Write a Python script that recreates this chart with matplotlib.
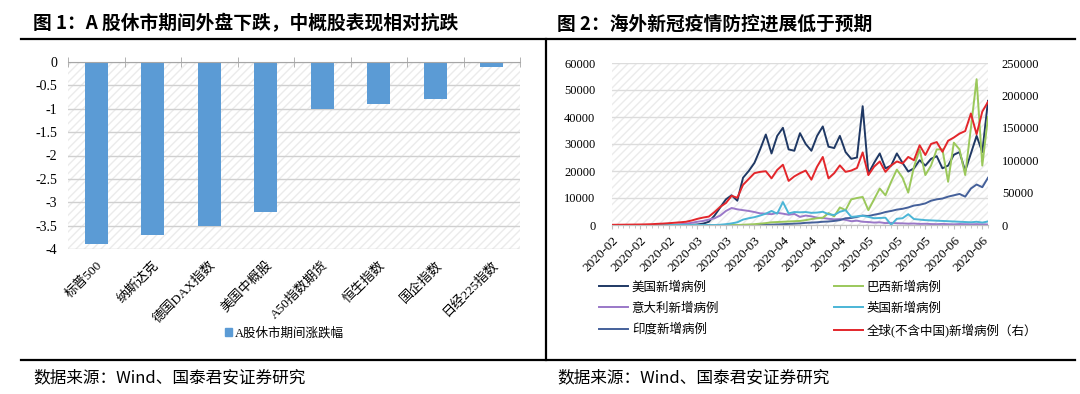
import numpy as np
import pandas as pd
import matplotlib
matplotlib.use('Agg')
import matplotlib.pyplot as plt
from matplotlib.patches import Rectangle, Patch
from matplotlib.lines import Line2D

plt.rcParams['font.family'] = ['Liberation Serif', 'Noto Sans CJK SC']

# ---- figure 1 data
indices = ['标普500', '纳斯达克', '德国DAX指数', '美国中概股', 'A50指数期货', '恒生指数', '国企指数', '日经225指数']
change = [-3.9, -3.7, -3.5, -3.2, -1.0, -0.9, -0.8, -0.1]

# ---- figure 2 data (every second day)
dates = pd.date_range('2020-02-03', periods=67, freq='2D')
us = [0, 0, 0, 0, 0, 0, 0, 0, 0, 0,
      0, 0, 0, 0, 50, 200, 500, 1200, 3500, 6500,
      9500, 11000, 9000, 17500, 20000, 23000, 28000, 33500, 26500, 33000,
      36000, 28000, 27500, 34000, 30000, 27500, 33000, 36500, 29000, 28500,
      33000, 27000, 24500, 25000, 44000, 19000, 23000, 26500, 21000, 22000,
      26500, 23000, 19800, 21000, 24000, 22000, 24500, 25500, 21000, 22000,
      26000, 27000, 20000, 26500, 33000, 27000, 46000]
brazil = [0, 0, 0, 0, 0, 0, 0, 0, 0, 0,
          0, 0, 0, 0, 0, 0, 0, 0, 0, 0,
          0, 0, 0, 100, 200, 300, 500, 700, 1000, 1100,
          1200, 1300, 1400, 1500, 1800, 2200, 2500, 2700, 4400, 3200,
          6500, 5500, 9500, 10000, 10400, 5500, 9500, 13500, 11000, 16000,
          20500, 17500, 12000, 21500, 28000, 18500, 22000, 28000, 28000, 16000,
          30500, 28000, 18500, 36000, 54000, 22000, 40000]
italy = [0, 0, 0, 0, 0, 0, 0, 0, 0, 0,
         50, 100, 300, 500, 800, 1200, 1500, 2000, 2500, 3500,
         5200, 6300, 5800, 5500, 5200, 4800, 4300, 4200, 4000, 4500,
         4200, 3800, 4100, 3000, 3500, 3200, 2700, 2600, 2300, 2100,
         2200, 1900, 1400, 1600, 1200, 1100, 900, 1000, 700, 800,
         650, 600, 500, 550, 400, 450, 350, 300, 400, 300,
         250, 350, 300, 250, 300, 250, 200]
uk = [0, 0, 0, 0, 0, 0, 0, 0, 0, 0,
      0, 0, 0, 0, 0, 0, 0, 0, 0, 100,
      300, 600, 1000, 2000, 2500, 2900, 3500, 4200, 5200, 4200,
      8500, 4300, 4800, 4700, 4800, 4500, 4600, 4900, 4000, 3700,
      4900, 5500, 3000, 3200, 3400, 3000, 2500, 2600, 2700, 100,
      2300, 2500, 4000, 2200, 2000, 1800, 1700, 1600, 1500, 1400,
      1300, 1200, 1100, 1000, 1200, 900, 1300]
india = [0, 0, 0, 0, 0, 0, 0, 0, 0, 0,
         0, 0, 0, 0, 0, 0, 0, 0, 0, 0,
         0, 0, 0, 0, 0, 0, 50, 100, 150, 200,
         300, 400, 500, 600, 800, 900, 1000, 1200, 1300, 1500,
         1800, 2500, 2600, 3000, 3500, 3300, 3800, 4200, 4800, 5200,
         5700, 6000, 6500, 7200, 7500, 8000, 9000, 9500, 9800, 10500,
         11000, 11500, 10500, 13500, 15000, 14000, 17500]
world = [300, 400, 500, 600, 700, 800, 1000, 1300, 1800, 2200,
         2800, 3500, 4200, 5000, 7000, 9500, 11500, 13000, 20000, 28000,
         34000, 45000, 42000, 62000, 71000, 80000, 82000, 83000, 72000, 85000,
         93000, 68000, 75000, 80000, 84000, 70000, 90000, 105000, 72000, 80000,
         92000, 82000, 84000, 88000, 112000, 77000, 90000, 98000, 82000, 92000,
         98000, 95000, 105000, 100000, 123000, 108000, 125000, 128000, 113000, 130000,
         135000, 141000, 145000, 172000, 140000, 175000, 190000]

W, H = 1080, 394
fig = plt.figure(figsize=(W / 100, H / 100), dpi=100)


def fx(px):
    return px / W


def fy(py):
    return 1 - py / H


def hatch_bg(ax):
    ax.add_patch(Rectangle((0, 0), 1, 1, transform=ax.transAxes, facecolor='white',
                           edgecolor='#ebebeb', hatch='////', lw=0, zorder=0))


# ---------------- figure 1
ax1 = fig.add_axes([fx(68), fy(249), fx(520) - fx(68), fy(62) - fy(249)])
hatch_bg(ax1)
ax1.set_axisbelow(True)
x1 = np.arange(len(indices))
bars = ax1.bar(x1, change, width=0.4, color='#5B9BD5', zorder=2)
ax1.set_xlim(-0.5, len(indices) - 0.5)
ax1.set_ylim(-4, 0)
yt = np.arange(-4, 0.01, 0.5)
ax1.set_yticks(yt, ['%g' % v for v in yt])
ax1.grid(axis='y', color='#d0d0d0', lw=1)
ax1.set_xticks(x1, indices, rotation=45, ha='right', rotation_mode='anchor', fontsize=9.5)
ax1.set_xticks(np.arange(-0.5, len(indices), 1), minor=True)
ax1.tick_params(axis='x', which='major', length=0, pad=7)
ax1.tick_params(axis='x', which='minor', bottom=False, top=True, direction='inout',
                length=7, color='#a6a6a6')
ax1.tick_params(axis='y', length=0, pad=8, labelsize=10)
for s in ['left', 'right', 'bottom']:
    ax1.spines[s].set_visible(False)
ax1.spines['top'].set_color('#a6a6a6')
fig.legend(handles=[Patch(color='#5B9BD5', label='A股休市期间涨跌幅')],
           loc='center', bbox_to_anchor=(fx(284), fy(333)), frameon=False,
           fontsize=9, handlelength=0.6, handleheight=0.6, handletextpad=0.2)

# ---------------- figure 2
ax2 = fig.add_axes([fx(612), fy(225), fx(988) - fx(612), fy(63) - fy(225)])
hatch_bg(ax2)
ax2.set_axisbelow(True)
x2 = np.arange(len(dates))
lw = 1.4
l_us, = ax2.plot(x2, us, color='#1F3864', lw=lw, label='美国新增病例')
l_it, = ax2.plot(x2, italy, color='#9A78C8', lw=lw, label='意大利新增病例')
l_in, = ax2.plot(x2, india, color='#44609A', lw=lw, label='印度新增病例')
l_br, = ax2.plot(x2, brazil, color='#9BC85B', lw=lw, label='巴西新增病例')
l_uk, = ax2.plot(x2, uk, color='#4BB5D6', lw=lw, label='英国新增病例')
ax2.set_xlim(0, len(dates) - 1)
ax2.set_ylim(0, 60000)
ax2.set_yticks(np.arange(0, 60001, 10000))
ax2.grid(axis='y', color='#dcdcdc', lw=1)
ax2.set_xticks(x2[::5], [d.strftime('%Y-%m') for d in dates[::5]], rotation=45,
               ha='right', rotation_mode='anchor', fontsize=9.5)
ax2.set_xticks(x2, minor=True)
ax2.tick_params(axis='x', which='major', length=3, color='#bfbfbf', pad=4)
ax2.tick_params(axis='x', which='minor', length=2, color='#bfbfbf')
ax2.tick_params(axis='y', length=0, pad=12, labelsize=9)

ax3 = ax2.twinx()
l_w, = ax3.plot(x2, world, color='#E3262B', lw=lw, label='全球(不含中国)新增病例（右）')
ax3.set_ylim(0, 250000)
ax3.set_yticks(np.arange(0, 250001, 50000))
ax3.tick_params(axis='y', length=0, pad=10, labelsize=9)
for a in (ax2, ax3):
    for s in ['left', 'right', 'top']:
        a.spines[s].set_visible(False)
    a.spines['bottom'].set_color('#bfbfbf')

fig.legend(handles=[l_us, l_it, l_in, l_br, l_uk, l_w], ncol=2, loc='upper left',
           bbox_to_anchor=(fx(588), fy(270)), frameon=False, fontsize=9,
           handlelength=2.3, handletextpad=0.3, columnspacing=9.2, labelspacing=0.7)

# ---------------- frame, titles, sources
for xs, ys in [([21, 1075], [39, 39]), ([546, 546], [39, 360]), ([21, 1075], [360, 360])]:
    fig.add_artist(Line2D([fx(v) for v in xs], [fy(v) for v in ys],
                          transform=fig.transFigure, color='black', lw=1.6))

title_font = ['Noto Sans CJK SC']
fig.text(fx(33), fy(24), '图 1：A 股休市期间外盘下跌，中概股表现相对抗跌', fontsize=13.5,
         fontweight='bold', family=title_font, va='center')
fig.text(fx(557), fy(24), '图 2：海外新冠疫情防控进展低于预期', fontsize=13.5,
         fontweight='bold', family=title_font, va='center')
fig.text(fx(33), fy(378), '数据来源：Wind、国泰君安证券研究', fontsize=12,
         family=title_font, va='center')
fig.text(fx(557), fy(378), '数据来源：Wind、国泰君安证券研究', fontsize=12,
         family=title_font, va='center')

fig.savefig('out.png', dpi=100)
